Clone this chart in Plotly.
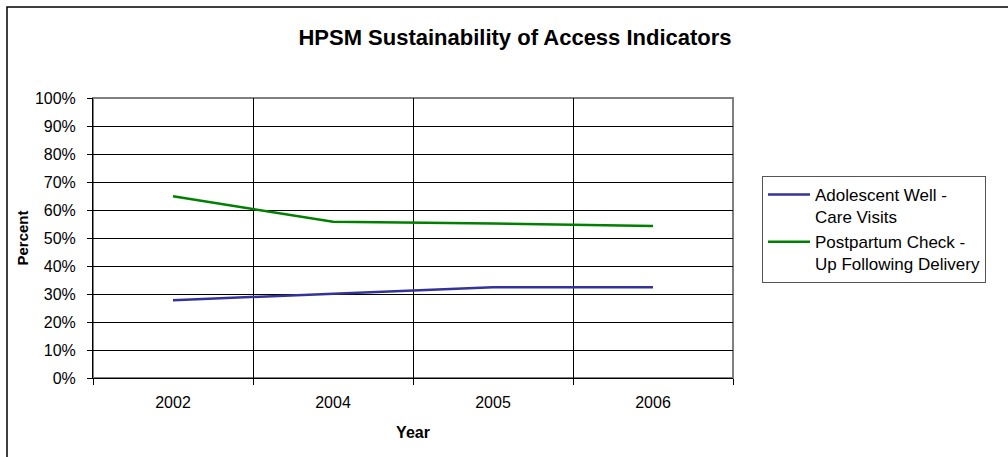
import plotly.graph_objects as go

years = ["2002", "2004", "2005", "2006"]
adolescent_well_care = [0.278, 0.302, 0.324, 0.324]
postpartum_checkup = [0.649, 0.558, 0.552, 0.543]
y_ticks = [i / 10 for i in range(11)]
y_tick_text = [f"{i * 10}%" for i in range(11)]

FONT = "Liberation Sans, Arial, sans-serif"

fig = go.Figure()
fig.add_trace(go.Scatter(
    x=years, y=adolescent_well_care, mode="lines",
    name="Adolescent Well -<br>Care Visits",
    line=dict(color="#333399", width=2.5),
))
fig.add_trace(go.Scatter(
    x=years, y=postpartum_checkup, mode="lines",
    name="Postpartum Check -<br>Up Following Delivery",
    line=dict(color="#008000", width=2.5),
))

fig.update_layout(
    width=1008, height=457,
    margin=dict(l=93, r=275, t=98, b=79, autoexpand=False),
    paper_bgcolor="white", plot_bgcolor="white",
    font=dict(family=FONT, size=16, color="black"),
    title=dict(
        text="<b>HPSM Sustainability of Access Indicators</b>",
        x=515 / 1008, xanchor="center", y=1 - 37 / 457, yanchor="middle",
        font=dict(size=22),
    ),
    xaxis=dict(
        type="category", tickson="boundaries", range=[-0.5, 3.5],
        showgrid=True, gridcolor="black", gridwidth=1,
        ticks="outside", ticklen=6, tickcolor="black",
        showline=True, linecolor="black", linewidth=1,
        ticklabelstandoff=10,
        title=dict(text="<b>Year</b>", font=dict(size=16), standoff=16),
        tickfont=dict(size=16),
    ),
    yaxis=dict(
        range=[0, 1], tickvals=y_ticks, ticktext=y_tick_text,
        showgrid=True, gridcolor="black", gridwidth=1,
        ticks="outside", ticklen=5, tickcolor="black",
        showline=True, linecolor="black", linewidth=1,
        zeroline=False, ticklabelstandoff=8,
        title=dict(text="<b>Percent</b>", font=dict(size=15), standoff=2),
        tickfont=dict(size=16),
    ),
    legend=dict(
        x=(762 - 93) / 640, y=(378 - 176) / 280, xanchor="left", yanchor="top",
        bgcolor="white", bordercolor="#555555", borderwidth=1,
        font=dict(size=17), tracegroupgap=4, valign="top", itemwidth=42,
    ),
    showlegend=True,
)

# plot-area frame (top/right in grey) and outer chart border
fig.add_shape(type="rect", xref="paper", yref="paper", x0=0, x1=1, y0=0, y1=1,
              line=dict(color="#808080", width=2), layer="below")
fig.add_shape(type="rect", xref="paper", yref="paper",
              x0=(7 - 93) / 640, x1=(1030 - 93) / 640,
              y0=(378 - 470) / 280, y1=(378 - 7) / 280,
              line=dict(color="black", width=1.5))

fig.write_html("out.html")
